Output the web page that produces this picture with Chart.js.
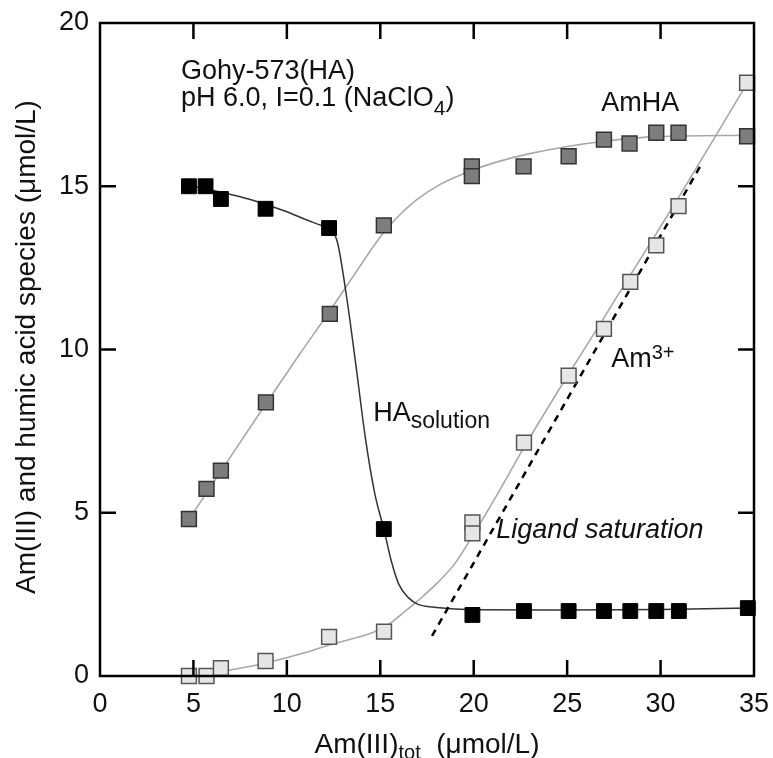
<!DOCTYPE html>
<html><head><meta charset="utf-8">
<script src="https://cdn.jsdelivr.net/npm/chart.js@4/dist/chart.umd.min.js"></script>
<style>html,body{margin:0;padding:0;background:#fff}canvas{display:block}</style>
</head><body>
<canvas id="c" width="773" height="758"></canvas>
<script>
// ---- tick labels ----
const xTicks = [0, 5, 10, 15, 20, 25, 30, 35];
const yTicks = [0, 5, 10, 15, 20];

// ---- measured points ----
// HA in solution (black squares)
const haX = [4.76, 5.65, 6.47, 8.86, 12.26, 15.19, 19.93, 22.69, 25.08, 26.97, 28.38, 29.77, 30.98, 34.67];
const haY = [15.0, 15.0, 14.61, 14.31, 13.72, 4.5, 1.87, 1.99, 1.99, 1.99, 1.99, 1.99, 1.99, 2.08];
// AmHA complex (dark grey squares)
const amhaX = [4.76, 5.7, 6.47, 8.88, 12.3, 15.19, 19.9, 19.9, 22.67, 25.08, 26.97, 28.34, 29.77, 30.96, 34.63];
const amhaY = [4.81, 5.73, 6.29, 8.38, 11.09, 13.8, 15.61, 15.31, 15.61, 15.92, 16.43, 16.31, 16.64, 16.64, 16.53];
// Am3+ free (light grey squares)
const am3X = [4.76, 5.7, 6.47, 8.86, 12.26, 15.2, 19.93, 19.93, 22.69, 25.08, 26.97, 28.38, 29.77, 30.96, 34.63];
const am3Y = [0, 0, 0.24, 0.46, 1.2, 1.36, 4.70, 4.37, 7.15, 9.2, 10.63, 12.07, 13.19, 14.39, 18.17];

// ---- model curves ----
const haFitX = [4.76, 6.0, 7.0, 8.0, 9.0, 10.0, 11.0, 12.0, 12.3, 12.7, 13.2, 13.7, 14.2, 14.7, 15.19, 15.6, 16.0, 16.5, 17.0, 18.0, 20.0, 25.0, 30.0, 34.8];
const haFitY = [15.02, 14.88, 14.75, 14.6, 14.42, 14.22, 13.98, 13.76, 13.68, 13.3, 11.6, 9.5, 7.3, 5.6, 4.5, 3.5, 2.8, 2.4, 2.2, 2.1, 2.03, 2.02, 2.04, 2.08];
const amhaFitX = [4.76, 6.47, 8.88, 10.7, 12.3, 13.5, 14.5, 15.2, 16.04, 16.94, 18.18, 19.88, 21.4, 23.0, 25.0, 27.0, 29.8, 34.8];
const amhaFitY = [4.8, 6.27, 8.34, 9.87, 11.18, 12.2, 13.05, 13.6, 14.12, 14.58, 15.05, 15.48, 15.77, 16.0, 16.22, 16.38, 16.52, 16.56];
const am3FitX = [6.47, 8.86, 11.0, 12.26, 13.5, 14.6, 15.5, 16.2, 17.0, 18.0, 19.0, 20.0, 21.2, 22.69, 25.08, 26.97, 28.38, 29.77, 30.96, 34.63];
const am3FitY = [0.13, 0.4, 0.72, 0.95, 1.14, 1.33, 1.6, 1.92, 2.3, 2.82, 3.45, 4.35, 5.5, 7.0, 9.25, 10.97, 12.28, 13.55, 14.65, 18.15];
// ligand saturation line
const satX = [17.77, 32.26];
const satY = [1.23, 15.75];

const FONT = '"Liberation Sans", Arial, Helvetica, sans-serif';
const pts = (xs, ys) => xs.map((x, i) => ({x, y: ys[i]}));

const deco = {
  id: 'deco',
  afterDatasetsDraw(chart) {
    const {ctx, chartArea: a, scales: {x, y}} = chart;
    ctx.save();
    ctx.strokeStyle = '#000';
    ctx.lineWidth = 2.5;
    ctx.strokeRect(a.left, a.top, a.right - a.left, a.bottom - a.top);
    const tl = 16;
    ctx.beginPath();
    xTicks.forEach(v => {
      if (v <= x.min || v >= x.max) return;
      const px = x.getPixelForValue(v);
      ctx.moveTo(px, a.bottom); ctx.lineTo(px, a.bottom - tl);
      ctx.moveTo(px, a.top); ctx.lineTo(px, a.top + tl);
    });
    yTicks.forEach(v => {
      if (v <= y.min || v >= y.max) return;
      const py = y.getPixelForValue(v);
      ctx.moveTo(a.left, py); ctx.lineTo(a.left + tl, py);
      ctx.moveTo(a.right, py); ctx.lineTo(a.right - tl, py);
    });
    ctx.stroke();
    ctx.restore();
  },
  afterDraw(chart) {
    const {ctx, chartArea: a, scales: {x, y}} = chart;
    const X = v => x.getPixelForValue(v), Y = v => y.getPixelForValue(v);
    ctx.save();
    ctx.fillStyle = '#111';
    ctx.textBaseline = 'alphabetic';
    ctx.textAlign = 'left';
    function runs(px, py, parts) {
      let cx = px;
      parts.forEach(p => {
        ctx.font = (p.italic ? 'italic ' : '') + p.size + 'px ' + FONT;
        ctx.fillText(p.t, cx, py + (p.dy || 0));
        cx += ctx.measureText(p.t).width;
      });
      return cx - px;
    }
    function width(parts) {
      let w = 0;
      parts.forEach(p => { ctx.font = (p.italic ? 'italic ' : '') + p.size + 'px ' + FONT; w += ctx.measureText(p.t).width; });
      return w;
    }
    runs(X(4.33), Y(18.3), [{t: 'Gohy-573(HA)', size: 27}]);
    runs(X(4.33), Y(17.45), [{t: 'pH 6.0, I=0.1 (NaClO', size: 27}, {t: '4', size: 21, dy: 9}, {t: ')', size: 27}]);
    runs(X(26.83), Y(17.29), [{t: 'AmHA', size: 27}]);
    runs(X(14.62), Y(7.80), [{t: 'HA', size: 27}, {t: 'solution', size: 23, dy: 7}]);
    runs(X(27.36), Y(9.47), [{t: 'Am', size: 27}, {t: '3+', size: 20, dy: -8}]);
    runs(X(21.21), Y(4.23), [{t: 'Ligand saturation', size: 27, italic: true}]);

    // x-axis title
    const xt = [{t: 'Am(III)', size: 28}, {t: 'tot', size: 20, dy: 6}, {t: '  (\u03bcmol/L)', size: 28}];
    const cx = (a.left + a.right) / 2;
    runs(cx - width(xt) / 2, 753, xt);

    // y-axis title
    ctx.translate(35, 347);
    ctx.rotate(-Math.PI / 2);
    ctx.textAlign = 'center';
    ctx.font = '28px ' + FONT;
    ctx.fillText('Am(III) and humic acid species (\u03bcmol/L)', 0, 0);
    ctx.restore();
  }
};

const sq = (bg, bd, bw) => ({
  showLine: false, pointStyle: 'rect', pointRadius: 10.5, pointHoverRadius: 10.5,
  backgroundColor: bg, borderColor: bd, borderWidth: bw, clip: false
});
const ln = (col, w, dash) => ({
  showLine: true, pointRadius: 0, pointHoverRadius: 0, borderColor: col, borderWidth: w,
  borderDash: dash || [], cubicInterpolationMode: 'monotone', fill: false, clip: false
});

new Chart(document.getElementById('c'), {
  type: 'scatter',
  data: {
    datasets: [
      Object.assign({label: 'HA solution', data: pts(haX, haY)}, sq('#000', '#000', 1)),
      Object.assign({label: 'AmHA', data: pts(amhaX, amhaY)}, sq('#7d7d7d', '#333', 1.5)),
      Object.assign({label: 'Am3+', data: pts(am3X, am3Y)}, sq('#e6e6e6', '#555', 1.5)),
      Object.assign({label: 'Ligand saturation', data: pts(satX, satY)}, ln('#000', 2.5, [7, 6]), {cubicInterpolationMode: 'default', tension: 0}),
      Object.assign({label: 'HA fit', data: pts(haFitX, haFitY)}, ln('#333', 1.5)),
      Object.assign({label: 'AmHA fit', data: pts(amhaFitX, amhaFitY)}, ln('#a8a8a8', 1.6)),
      Object.assign({label: 'Am3+ fit', data: pts(am3FitX, am3FitY)}, ln('#a8a8a8', 1.6))
    ]
  },
  options: {
    responsive: false,
    devicePixelRatio: 1,
    animation: false,
    events: [],
    layout: {padding: {top: 23, right: 19, left: 0, bottom: 0}},
    plugins: {legend: {display: false}, tooltip: {enabled: false}},
    scales: {
      x: {
        type: 'linear', min: 0, max: 35,
        afterBuildTicks: s => { s.ticks = xTicks.map(v => ({value: v})); },
        afterFit: s => { s.height = 82; s.paddingLeft = 0; s.paddingRight = 0; },
        grid: {display: false, drawTicks: false},
        border: {display: false},
        ticks: {font: {family: FONT, size: 27}, color: '#111', padding: 12, maxRotation: 0, autoSkip: false}
      },
      y: {
        type: 'linear', min: 0, max: 20,
        afterBuildTicks: s => { s.ticks = yTicks.map(v => ({value: v})); },
        afterFit: s => { s.width = 100; s.paddingTop = 0; s.paddingBottom = 0; },
        grid: {display: false, drawTicks: false},
        border: {display: false},
        ticks: {font: {family: FONT, size: 27}, color: '#111', padding: 11, autoSkip: false}
      }
    }
  },
  plugins: [deco]
});
</script>
</body></html>
